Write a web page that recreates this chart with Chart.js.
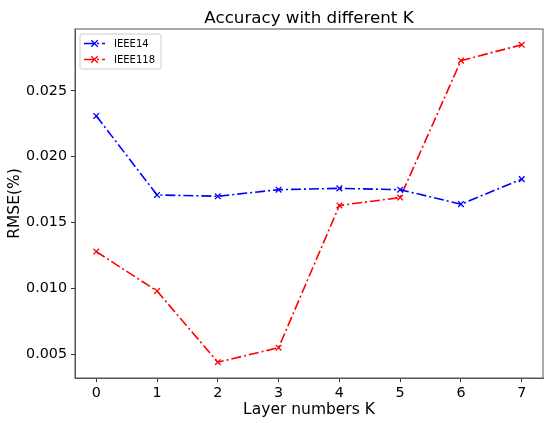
<!DOCTYPE html>
<html>
<head>
<meta charset="utf-8">
<script src="https://cdn.jsdelivr.net/npm/chart.js@4.4.1/dist/chart.umd.min.js"></script>
<style>
  body { margin: 0; background: #fff; }
  #wrap { width: 550px; height: 423px; position: relative; }
</style>
</head>
<body>
<div id="wrap"><canvas id="chart"></canvas></div>
<script>
// values
const layers = [0, 1, 2, 3, 4, 5, 6, 7];
const ieee14 = [0.0231, 0.0171, 0.0170, 0.0175, 0.0176, 0.0175, 0.0164, 0.0183];
const ieee118 = [0.0128, 0.0098, 0.0044, 0.0055, 0.0163, 0.0169, 0.0273, 0.0285];
const xTicks = [0, 1, 2, 3, 4, 5, 6, 7];
const yTicks = [0.005, 0.010, 0.015, 0.020, 0.025];
const chartTitle = 'Accuracy with different K';

const FONT = "'DejaVu Sans', sans-serif";
const dashDot = [10, 3, 2, 3];

function points(vals) {
    return layers.map((k, i) => ({ x: k, y: vals[i] }));
}

// matplotlib style frame on all four sides, title centred over the plot
const framePlugin = {
    id: 'frame',
    afterDraw(chart) {
        const a = chart.chartArea;
        const ctx = chart.ctx;
        ctx.save();
        ctx.strokeStyle = '#555';
        ctx.lineWidth = 1;
        ctx.strokeRect(a.left, a.top, a.right - a.left, a.bottom - a.top);
        ctx.fillStyle = '#000';
        ctx.font = "16.7px " + FONT;
        ctx.textAlign = 'center';
        ctx.textBaseline = 'alphabetic';
        ctx.fillText(chartTitle, (a.left + a.right) / 2, a.top - 6);
        ctx.restore();
    }
};

// legend box in the upper left corner of the plot
const legendPlugin = {
    id: 'boxLegend',
    afterDraw(chart) {
        const a = chart.chartArea;
        const ctx = chart.ctx;
        const x = a.left + 5, y = a.top + 5, w = 81, h = 35;
        ctx.save();
        ctx.fillStyle = 'rgba(255,255,255,0.8)';
        ctx.strokeStyle = '#cccccc';
        ctx.lineWidth = 1;
        ctx.beginPath();
        ctx.roundRect(x, y, w, h, 2);
        ctx.fill();
        ctx.stroke();
        chart.data.datasets.forEach((ds, i) => {
            const ly = y + 9.5 + i * 16;
            ctx.strokeStyle = ds.borderColor;
            ctx.lineWidth = 1.6;
            ctx.setLineDash(dashDot);
            ctx.beginPath();
            ctx.moveTo(x + 4, ly);
            ctx.lineTo(x + 25, ly);
            ctx.stroke();
            ctx.setLineDash([]);
            const mx = x + 14.5, r = 3.2;
            ctx.lineWidth = 1.3;
            ctx.beginPath();
            ctx.moveTo(mx - r, ly - r); ctx.lineTo(mx + r, ly + r);
            ctx.moveTo(mx - r, ly + r); ctx.lineTo(mx + r, ly - r);
            ctx.stroke();
            ctx.fillStyle = '#000';
            ctx.font = "10px " + FONT;
            ctx.textAlign = 'left';
            ctx.textBaseline = 'middle';
            ctx.fillText(ds.label, x + 34, ly + 0.5);
        });
        ctx.restore();
    }
};

const ctx = document.getElementById('chart').getContext('2d');
new Chart(ctx, {
    type: 'line',
    data: {
        datasets: [{
            label: 'IEEE14',
            data: points(ieee14),
            borderColor: '#0000ff',
            backgroundColor: '#0000ff',
            borderWidth: 1.6,
            borderDash: dashDot,
            pointStyle: 'crossRot',
            pointRadius: 4,
            pointBorderWidth: 1.3,
            tension: 0
        }, {
            label: 'IEEE118',
            data: points(ieee118),
            borderColor: '#ff0000',
            backgroundColor: '#ff0000',
            borderWidth: 1.6,
            borderDash: dashDot,
            pointStyle: 'crossRot',
            pointRadius: 4,
            pointBorderWidth: 1.3,
            tension: 0
        }]
    },
    options: {
        responsive: true,
        maintainAspectRatio: false,
        animation: false,
        layout: { padding: { top: 29, right: 7, bottom: 0, left: 0 } },
        scales: {
            x: {
                type: 'linear',
                min: -0.35,
                max: 7.35,
                afterBuildTicks: (s) => { s.ticks = xTicks.map(v => ({ value: v })); },
                afterFit: (s) => { s.height = 45; },
                grid: { drawOnChartArea: false, drawTicks: true, tickLength: 4, color: '#333' },
                border: { display: true, color: '#555' },
                ticks: {
                    color: '#000',
                    padding: 3,
                    maxRotation: 0,
                    font: { family: FONT, size: 14.3 },
                    callback: (v) => String(v)
                },
                title: {
                    display: true,
                    text: 'Layer numbers K',
                    color: '#000',
                    font: { family: FONT, size: 15.5 },
                    padding: { top: 0, bottom: 4 }
                }
            },
            y: {
                type: 'linear',
                min: 0.0032,
                max: 0.0297,
                afterBuildTicks: (s) => { s.ticks = yTicks.map(v => ({ value: v })); },
                afterFit: (s) => { s.width = 75; },
                grid: { drawOnChartArea: false, drawTicks: true, tickLength: 4, color: '#333' },
                border: { display: true, color: '#555' },
                ticks: {
                    color: '#000',
                    padding: 4,
                    font: { family: FONT, size: 14.3 },
                    callback: (v) => Number(v).toFixed(3)
                },
                title: {
                    display: true,
                    text: 'RMSE(%)',
                    color: '#000',
                    font: { family: FONT, size: 15.5 },
                    padding: { top: 6, bottom: 0 }
                }
            }
        },
        plugins: {
            legend: { display: false },
            tooltip: { enabled: false },
            title: { display: false }
        }
    },
    plugins: [framePlugin, legendPlugin]
});
</script>
</body>
</html>
